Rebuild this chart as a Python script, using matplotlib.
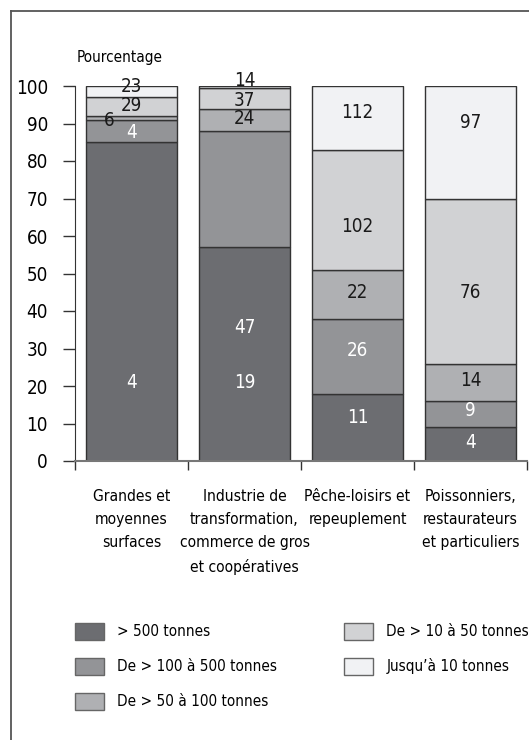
#!/usr/bin/env python3
"""Répartition des entreprises par classe de volume, selon le débouché."""

import matplotlib
matplotlib.use("Agg")
import matplotlib.pyplot as plt
from matplotlib.lines import Line2D
from matplotlib.patches import Patch
import numpy as np

plt.rcParams["font.family"] = ["DejaVu Sans"]
plt.rcParams["font.stretch"] = "condensed"

# ── Données ────────────────────────────────────────────────────────────────────
CATEGORIES = [
    "Grandes et\nmoyennes\nsurfaces",
    "Industrie de\ntransformation,\ncommerce de gros\net coopératives",
    "Pêche-loisirs et\nrepeuplement",
    "Poissonniers,\nrestaurateurs\net particuliers",
]
CLASSES = [
    "> 500 tonnes",
    "De > 100 à 500 tonnes",
    "De > 50 à 100 tonnes",
    "De > 10 à 50 tonnes",
    "Jusqu’à 10 tonnes",
]
# pourcentage de chaque classe (ordre : >500 … jusqu'à 10 t)
PCT_500 = [85, 57, 18, 9]
PCT_100 = [6, 31, 20, 7]
PCT_50 = [1, 6, 13, 10]
PCT_10 = [5, 5.4, 32, 44]
PCT_0 = [3, 0.6, 17, 30]
# effectifs affichés dans les barres
N_500 = [4, 19, 11, 4]
N_100 = [4, 47, 26, 9]
N_50 = [6, 24, 22, 14]
N_10 = [29, 37, 102, 76]
N_0 = [23, 14, 112, 97]

# ── Style ──────────────────────────────────────────────────────────────────────
COULEURS = ["#6c6d71", "#939497", "#afb0b3", "#d1d2d4", "#f1f2f4"]
COUL_TXT = ["white", "white", "#1a1a1a", "#1a1a1a", "#1a1a1a"]
# hauteur (en %) où chaque effectif est écrit, par classe puis par barre
POS_Y = [
    [21, 21, 11.5, 4.8],
    [87.5, 35.7, 29.6, 13.4],
    [90.7, 91.2, 44.8, 21.6],
    [94.7, 96.1, 62.4, 44.8],
    [99.8, 101.6, 92.8, 90.4],
]
DX_6 = -0.2  # le "6" est décalé à gauche dans l'original

W, H = 529, 740
fig = plt.figure(figsize=(W / 100, H / 100), dpi=100)

# cadre (haut + gauche)
fig.add_artist(Line2D([11 / W, 1], [1 - 10.5 / H] * 2, color="#555555", lw=1.3))
fig.add_artist(Line2D([11 / W] * 2, [0, 1 - 10.5 / H], color="#555555", lw=1.3))

ax = fig.add_axes([75 / W, 1 - 461 / H, (527 - 75) / W, (461 - 86) / H])

pcts = [PCT_500, PCT_100, PCT_50, PCT_10, PCT_0]
nums = [N_500, N_100, N_50, N_10, N_0]
x = np.arange(len(CATEGORIES))
bas = np.zeros(len(CATEGORIES))
for k, (vals, col) in enumerate(zip(pcts, COULEURS)):
    ax.bar(x, vals, bottom=bas, width=0.8, color=col, edgecolor="#333333",
           linewidth=1.0, label=CLASSES[k], zorder=2)
    bas += np.array(vals)

for k in range(5):
    for i in range(len(CATEGORIES)):
        dx = DX_6 if (k == 2 and i == 0) else 0
        ax.text(x[i] + dx, POS_Y[k][i], str(nums[k][i]), ha="center",
                va="center", fontsize=13.5, color=COUL_TXT[k], zorder=3)

# axes
ax.set_xlim(-0.5, 3.5)
ax.set_ylim(0, 100)
ax.set_yticks(np.arange(0, 101, 10))
ax.tick_params(axis="y", length=8.5, width=1, color="#333333", pad=11,
               labelsize=13.5)
ax.set_xticks(np.arange(-0.5, 3.6, 1))
ax.set_xticklabels([])
ax.tick_params(axis="x", which="major", length=6.5, width=1, color="#333333")
ax.set_xticks(x, minor=True)
ax.set_xticklabels(CATEGORIES, minor=True, fontsize=11.2, linespacing=1.69)
ax.tick_params(axis="x", which="minor", length=0, pad=20)
for sp in ["top", "right"]:
    ax.spines[sp].set_visible(False)
ax.spines["left"].set_color("#333333")
ax.spines["bottom"].set_color("#777777")
ax.spines["bottom"].set_bounds(-0.5, 3.5)
ax.spines["bottom"].set_linewidth(1.5)

ax.text(0.004, 1.077, "Pourcentage", transform=ax.transAxes, fontsize=11,
        ha="left", va="center")

# légende
poignees = [Patch(facecolor=c, edgecolor="#666666", linewidth=1)
            for c in COULEURS]
fig.legend(poignees, CLASSES, loc="upper left",
           bbox_to_anchor=(75 / W, 1 - 623 / H), ncol=2, frameon=False,
           fontsize=11, handlelength=1.9, handleheight=1.3,
           handletextpad=0.85, labelspacing=1.2, columnspacing=4.4,
           borderpad=0, borderaxespad=0)

fig.savefig("out.png", dpi=100)
